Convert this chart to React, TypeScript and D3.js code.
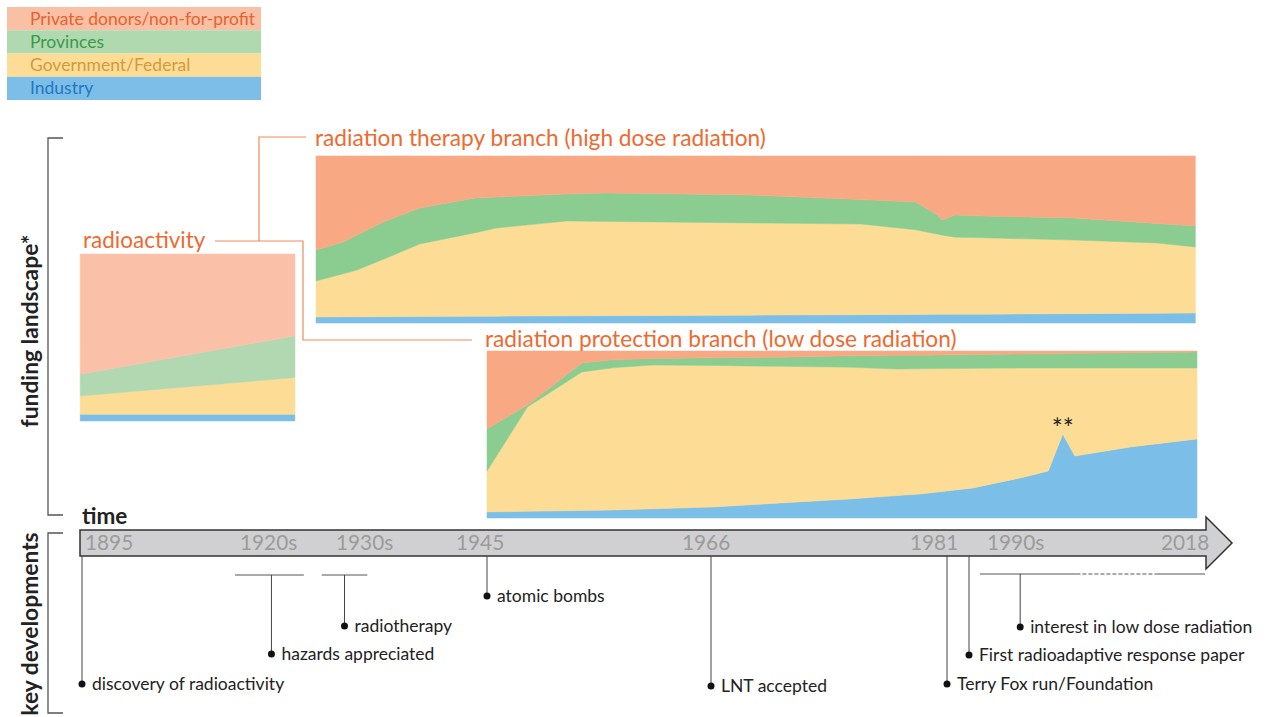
import React from 'react';
import * as d3 from 'd3';

// ---------- data ----------
const SERIES_KEYS = ['industry', 'government', 'provinces', 'private'];
const LEGEND_LABELS = ['Private donors/non-for-profit', 'Provinces', 'Government/Federal', 'Industry'];

// radioactivity (1895 - 1920s)
const radioYears = [1894.7, 1927.4];
const radioIndustry = [4, 4];
const radioGov = [11, 22];
const radioProv = [13, 25];
const radioPrivate = [72, 49];

// radiation therapy branch
const therapyYears = [1930, 1932.4, 1933.6, 1935.9, 1939.1, 1944.0, 1945.9, 1952.5, 1956.3, 1968.5, 1975.5, 1979.0, 1980.4, 1980.7, 1982.1, 1990.4, 2001.6, 2012.0, 2016.8];
const therapyIndustry = [3.6, 3.7, 3.7, 3.8, 3.9, 4.0, 4.1, 4.3, 4.4, 4.7, 5.0, 5.1, 5.2, 5.2, 5.3, 5.3, 5.6, 5.8, 6.0];
const therapyGov = [21.5, 25.8, 28.0, 34.3, 43.4, 50.1, 52.8, 56.8, 56.4, 55.2, 54.3, 50.7, 48.0, 47.4, 46.1, 45.7, 44.1, 42.1, 39.5];
const therapyProv = [18.6, 19.0, 21.0, 22.4, 21.6, 20.8, 18.5, 16.1, 17.0, 16.7, 14.6, 16.7, 11.5, 9.1, 13.3, 13.1, 13.2, 11.7, 12.6];
const therapyPrivate = [56.3, 51.5, 47.3, 39.5, 31.1, 25.1, 24.6, 22.8, 22.2, 23.4, 26.1, 27.5, 35.3, 38.3, 35.3, 35.9, 37.1, 40.4, 41.9];

// radiation protection branch
const protYears = [1945, 1948.8, 1953.9, 1956.8, 1960.6, 1966.1, 1970.4, 1974.8, 1977.8, 1979.3, 1986.2, 1995.0, 1998.5, 2000.3, 2001.8, 2008.7, 2017.0];
const protIndustry = [3.6, 4.0, 4.5, 4.8, 5.5, 6.6, 9.0, 11.4, 13.4, 14.4, 18.0, 24.0, 28.1, 50.3, 37.1, 42.5, 47.3];
const protGov = [24.5, 62.5, 83.0, 85.1, 86.1, 84.7, 81.8, 78.9, 75.8, 74.9, 71.6, 65.8, 61.7, 39.5, 52.7, 47.3, 42.5];
const protProv = [25.2, 1.2, 5.3, 4.9, 3.9, 4.7, 5.5, 6.8, 8.2, 8.2, 8.3, 8.4, 8.6, 8.7, 8.8, 9.1, 9.6];
const protPrivate = [46.7, 32.3, 7.2, 5.2, 4.5, 4.0, 3.7, 2.9, 2.6, 2.5, 2.1, 1.8, 1.6, 1.5, 1.4, 1.1, 0.6];
const spikeYear = 2000.3;
const spikeLabel = '**';

// time axis
const tickLabels = ['1895', '1920s', '1930s', '1945', '1966', '1981', '1990s', '2018'];
const tickYears = [1895, 1920, 1930, 1945, 1966, 1981, 1990, 2018];

// key developments
const eventLabels = ['discovery of radioactivity', 'hazards appreciated', 'radiotherapy', 'atomic bombs', 'LNT accepted', 'Terry Fox run/Foundation', 'First radioadaptive response paper', 'interest in low dose radiation'];
const eventYears = [1895, 1924.5, 1932.5, 1945, 1966, 1981, 1984, 1995];
const eventSpans: (number[] | null)[] = [null, [1920, 1928.5], [1930.5, 1934.5], null, null, null, null, [1990, 2018]];
const eventDashed: (number[] | null)[] = [null, null, null, null, null, null, null, [2002, 2012]];

// ---------- layout / style ----------
const W = 1266, H = 717;
const FONT = 'Lato, "Open Sans", sans-serif';
const YEAR_ANCHORS = [1895, 1920, 1930, 1945, 1966, 1981, 1984, 1990, 2018];
const X_ANCHORS = [82, 235, 316, 487, 711, 947, 969, 980, 1205];
const x = d3.scaleLinear().domain(YEAR_ANCHORS).range(X_ANCHORS);

const LEGEND_BG = ['#F9C0A6', '#B0D9B0', '#FDDD95', '#7DBEE8'];
const LEGEND_TXT = ['#E8622C', '#3A9A48', '#D49A3C', '#2277C4'];
const STRONG = ['#7BBEE8', '#FDDD95', '#8BCD90', '#F8A883']; // industry, gov, prov, private
const LIGHT = ['#7DBEE8', '#FDDD95', '#B1D8B0', '#FAC1A8'];
const ORANGE = '#EE6A30';
const LINE_ORANGE = '#F08A5E';

const tickDx = [3, 5, 20, -31, -29, -37, 7, -44];
const eventDotY = [684, 654, 626, 596, 686, 684, 655, 627];
const ARROW_TOP = 530, ARROW_BOT = 556;

function Panel(props: { years: number[]; ind: number[]; gov: number[]; prov: number[]; priv: number[]; top: number; bottom: number; colors: string[] }) {
  const { years, ind, gov, prov, priv, top, bottom, colors } = props;
  const rows = years.map((yr, i) => ({ year: yr, industry: ind[i], government: gov[i], provinces: prov[i], private: priv[i] }));
  const series = d3.stack<any>().keys(SERIES_KEYS).offset(d3.stackOffsetExpand)(rows);
  const y = d3.scaleLinear().domain([0, 1]).range([bottom, top]);
  const area = d3.area<any>().x((d) => x(d.data.year)).y0((d) => y(d[0])).y1((d) => y(d[1]));
  return (
    <g>
      {series.map((s, i) => (
        <path key={i} d={area(s) || ''} fill={colors[i]} stroke={colors[i]} strokeWidth={0.5} />
      ))}
    </g>
  );
}

export default function App() {
  const protY = d3.scaleLinear().domain([0, 1]).range([518, 351]);
  const si = protYears.indexOf(spikeYear);
  const spikeTotal = protIndustry[si] + protGov[si] + protProv[si] + protPrivate[si];
  const spikeY = protY(protIndustry[si] / spikeTotal);

  const arrowPts = [
    [80, ARROW_TOP], [1206, ARROW_TOP], [1206, 517], [1232, 543], [1206, 569], [1206, ARROW_BOT], [80, ARROW_BOT],
  ];

  return (
    <svg width={W} height={H} style={{ position: 'absolute', left: 0, top: 0, background: '#fff' }} fontFamily={FONT}>
      {/* legend */}
      {LEGEND_LABELS.map((lab, i) => (
        <g key={lab}>
          <rect x={7} y={7 + i * 23.25} width={254} height={23.25} fill={LEGEND_BG[i]} />
          <text x={30} y={7 + i * 23.25 + 17.5} fontSize={17.5} fill={LEGEND_TXT[i]}>{lab}</text>
        </g>
      ))}

      {/* panels */}
      <Panel years={radioYears} ind={radioIndustry} gov={radioGov} prov={radioProv} priv={radioPrivate} top={254} bottom={421} colors={LIGHT} />
      <Panel years={therapyYears} ind={therapyIndustry} gov={therapyGov} prov={therapyProv} priv={therapyPrivate} top={156} bottom={323} colors={STRONG} />
      <Panel years={protYears} ind={protIndustry} gov={protGov} prov={protProv} priv={protPrivate} top={351} bottom={518} colors={STRONG} />
      <text x={x(spikeYear)} y={spikeY + 4} textAnchor="middle" fontSize={26} fill="#222">{spikeLabel}</text>

      {/* titles and connectors */}
      <text x={83} y={248} fontSize={22.5} fill={ORANGE}>radioactivity</text>
      <text x={315} y={146} fontSize={22.7} fill={ORANGE}>radiation therapy branch (high dose radiation)</text>
      <text x={485} y={347} fontSize={22.7} fill={ORANGE}>radiation protection branch (low dose radiation)</text>
      <polyline points="215,241 303,241 303,340 472,340" fill="none" stroke={LINE_ORANGE} strokeWidth={1.2} />
      <polyline points="259,241 259,137 306,137" fill="none" stroke={LINE_ORANGE} strokeWidth={1.2} />

      {/* left brackets */}
      <path d="M63,138 L48,138 L48,515 L63,515" fill="none" stroke="#555" strokeWidth={1.3} />
      <path d="M63,533 L48,533 L48,713 L63,713" fill="none" stroke="#555" strokeWidth={1.3} />
      <text transform="translate(38,331) rotate(-90)" textAnchor="middle" fontSize={22.8} fontWeight="bold" fill="#222">funding landscape*</text>
      <text transform="translate(38,624) rotate(-90)" textAnchor="middle" fontSize={22.8} fontWeight="bold" fill="#222">key developments</text>

      {/* time arrow */}
      <text x={82} y={524} fontSize={22.5} fontWeight="bold" fill="#222">time</text>
      <polygon points={arrowPts.map((p) => p.join(',')).join(' ')} fill="#D0D0D2" stroke="#333" strokeWidth={1.5} />
      {tickLabels.map((t, i) => (
        <text key={t} x={x(tickYears[i]) + tickDx[i]} y={550} fontSize={20.8} fill="#9B9B9B">{t}</text>
      ))}

      {/* key developments */}
      {eventLabels.map((lab, i) => {
        const ex = x(eventYears[i]);
        const span = eventSpans[i];
        const dashed = eventDashed[i];
        const y0 = span ? (i === 7 ? 574 : 575) : ARROW_BOT;
        return (
          <g key={lab}>
            {span && !dashed && <line x1={x(span[0])} x2={x(span[1])} y1={y0} y2={y0} stroke="#555" strokeWidth={1} />}
            {span && dashed && (
              <g>
                <line x1={x(span[0])} x2={x(dashed[0])} y1={y0} y2={y0} stroke="#555" strokeWidth={1} />
                <line x1={x(dashed[0])} x2={x(dashed[1])} y1={y0} y2={y0} stroke="#555" strokeWidth={1} strokeDasharray="4,2" />
                <line x1={x(dashed[1])} x2={x(span[1])} y1={y0} y2={y0} stroke="#555" strokeWidth={1} />
              </g>
            )}
            <line x1={ex} x2={ex} y1={y0} y2={eventDotY[i]} stroke="#444" strokeWidth={1} />
            <circle cx={ex} cy={eventDotY[i]} r={3.5} fill="#111" />
            <text x={ex + 10} y={eventDotY[i] + 6} fontSize={17.5} fill="#222">{lab}</text>
          </g>
        );
      })}
    </svg>
  );
}
